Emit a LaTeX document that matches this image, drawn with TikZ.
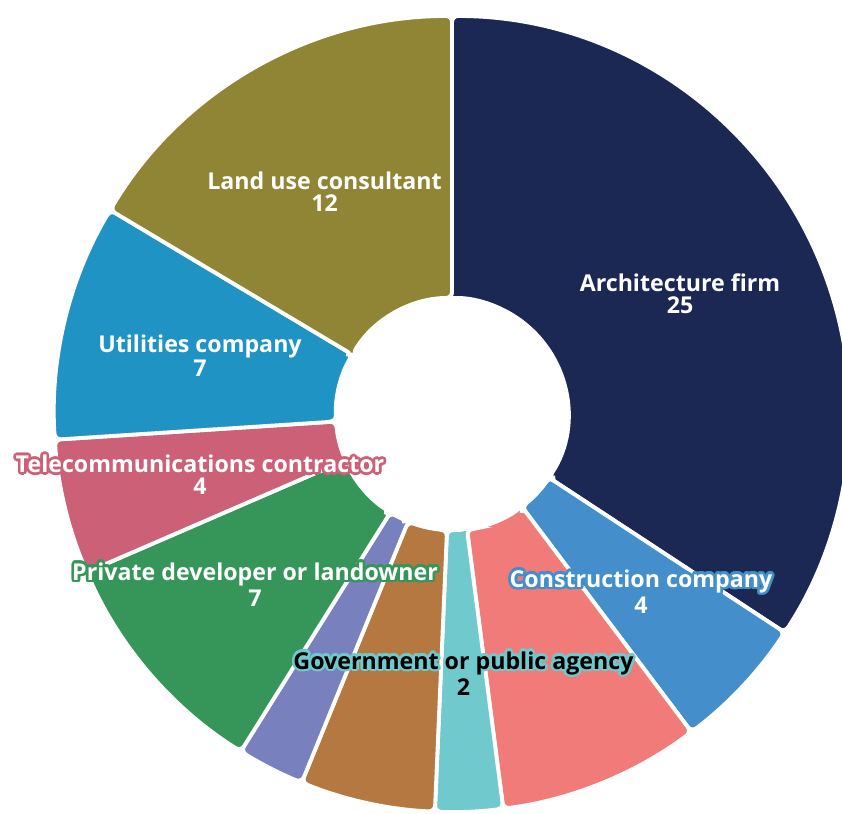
\documentclass[tikz,border=0pt]{standalone}
\usepackage{fontspec}
\setmainfont{Open Sans}
\usepackage{contour}
\contourlength{1.5pt}
\contournumber{16}

\definecolor{archcol}{HTML}{1B2853}
\definecolor{conscol}{HTML}{438ECB}
\definecolor{salmoncol}{HTML}{F07B79}
\definecolor{govcol}{HTML}{6FC9CD}
\definecolor{browncol}{HTML}{B47840}
\definecolor{purplecol}{HTML}{7880BD}
\definecolor{privcol}{HTML}{36965A}
\definecolor{telecol}{HTML}{CB6077}
\definecolor{utilcol}{HTML}{1F93C3}
\definecolor{landcol}{HTML}{8F8534}

\begin{document}
\begin{tikzpicture}[
segment/.style={draw=white, line width=2.2pt, rounded corners=3.5pt},
lbl/.style={font=\bfseries\fontsize{13.2}{12.5}\selectfont, text=white, align=center, inner sep=0pt}
]
    \useasboundingbox (0,0) rectangle (16.84,16.26);
    \clip (0,0) rectangle (16.84,16.26);

    % ring segments, clockwise from the top
    \begin{scope}[shift={(9.04,7.98)}]
    \foreach \a/\b/\col in {90/-33.29/archcol, -33.29/-53.01/conscol,
        -53.01/-82.60/salmoncol, -82.60/-92.47/govcol, -92.47/-112.19/browncol,
        -112.19/-122.05/purplecol, -122.05/-156.58/privcol, -156.58/-176.30/telecol,
        -176.30/-210.82/utilcol, -210.82/-270/landcol}
        \draw[segment, fill=\col] (\a:2.32) -- (\a:7.96)
            arc[start angle=\a, end angle=\b, radius=7.96] -- (\b:2.32)
            arc[start angle=\b, end angle=\a, radius=2.32] -- cycle;
    \end{scope}

    \node[lbl] (arch) at (13.60,10.38) {Architecture firm\\25};
    \node[lbl] (land) at (6.49,12.42) {Land use consultant\\12};
    \node[lbl] (util) at (4.00,9.14) {Utilities company\\7};
    \node[lbl] (tele) at (4.00,6.74) {\contour{telecol}{Telecommunications contractor}\\\contour{telecol}{4}};
    \node[lbl] (priv) at (5.10,4.54) {\contour{privcol}{Private developer or landowner}\\\contour{privcol}{7}};
    \node[lbl] (cons) at (12.82,4.40) {\contour{conscol}{Construction company}\\\contour{conscol}{4}};
    \node[lbl, text=black] (gov) at (9.27,2.76) {\contour{govcol}{Government or public agency}\\\contour{govcol}{2}};
\end{tikzpicture}
\end{document}
